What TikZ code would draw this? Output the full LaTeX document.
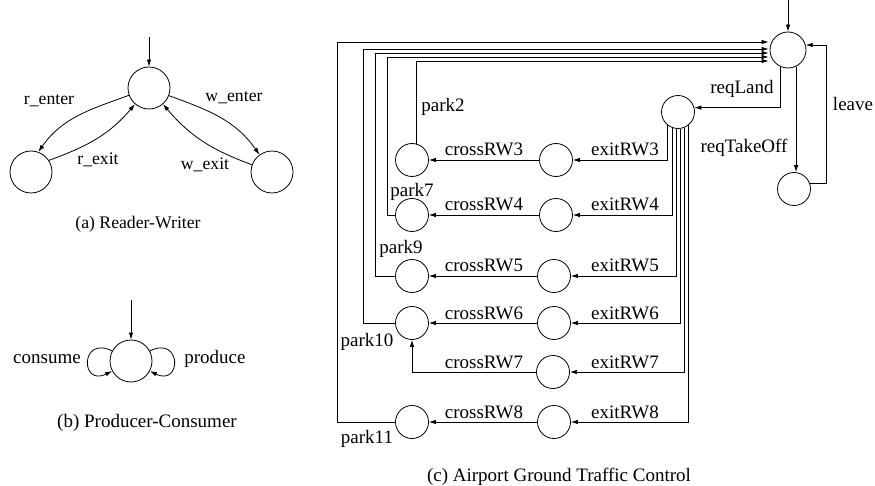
\documentclass[tikz,border=0pt]{standalone}
\usepackage{fontspec}
\setmainfont{Liberation Serif}
\usetikzlibrary{arrows.meta}
\begin{document}
\begin{tikzpicture}[x=1pt,y=1pt,
  st/.style={draw, circle, minimum size=33pt, inner sep=0pt, line width=0.8pt},
  sta/.style={st, minimum size=42pt},
  tr/.style={-{Latex[length=7pt,width=4.5pt]}, line width=0.8pt},
  lbl/.style={anchor=base, inner sep=0pt, font=\fontsize{19}{22}\selectfont},
  lbla/.style={anchor=base, inner sep=0pt, font=\fontsize{17.7}{20}\selectfont}]
\useasboundingbox (0,0) rectangle (875,-486);

% ---------- (a) Reader-Writer ----------
\node[sta] (a0) at (149,-88) {};
\node[sta] (a1) at (31,-172) {};
\node[sta] (a2) at (272,-172) {};
\coordinate (ai) at (149,-37);
\draw[tr] (ai) -- (a0.north);
\draw[tr] (a0.200) to[out=200,in=55] (a1.70);
\draw[tr] (a1.33) to[out=20,in=230] (a0.229);
\draw[tr] (a0.339) to[out=340,in=125] (a2.126);
\draw[tr] (a2.160) to[out=160,in=310] (a0.311);
\node[lbla] (la1) at (49,-105) {r\_enter};
\node[lbla] (la2) at (98,-165) {r\_exit};
\node[lbla] (la3) at (234,-102) {w\_enter};
\node[lbla] (la4) at (205,-170) {w\_exit};
\node[lbla] (capa) at (138,-229) {(a) Reader-Writer};

% ---------- (b) Producer-Consumer ----------
\node[sta] (b0) at (131,-361) {};
\coordinate (bi) at (131,-300);
\draw[tr] (bi) -- (b0.north);
\draw[tr] (b0.152) .. controls +(-32,16) and +(-32,-16) .. (b0.208);
\draw[tr] (b0.28) .. controls +(32,16) and +(32,-16) .. (b0.332);
\node[lbl] (lb1) at (47,-363) {consume};
\node[lbl] (lb2) at (215,-363) {produce};
\node[lbl] (capb) at (147,-427) {(b) Producer-Consumer};

% ---------- (c) Airport Ground Traffic Control ----------
\node[st, minimum size=36pt] (T) at (788,-50) {};
\node[st] (L) at (678,-112) {};
\node[st] (O) at (794,-189) {};
\coordinate (ti) at (788,0);
\draw[tr] (ti) -- (T.north);
\draw[tr] (T.244) |- (L.15);
\draw[tr] (T.296) -- (T.296 |- O.north);
\coordinate (lv) at (826,-45);
\draw[tr] (O.20) -| (lv) -- (lv -| T.16);
\node[lbl] (lc1) at (742,-94) {reqLand};
\node[lbl] (lc2) at (744,-153) {reqTakeOff};
\node[lbl] (lc3) at (853,-111) {leave};

\node[st] (X3) at (556,-160) {}; \node[st] (P3) at (412,-160) {};
\node[st] (X4) at (556,-215) {}; \node[st] (P4) at (412,-215) {};
\node[st] (X5) at (554,-276) {}; \node[st] (P5) at (412,-276) {};
\node[st] (X6) at (554,-323) {}; \node[st] (P6) at (412,-323) {};
\node[st] (X7) at (553,-372) {};
\node[st] (X8) at (554,-422) {}; \node[st] (P8) at (412,-422) {};

% exits from reqLand state
\draw[tr] (L.233) |- (X3.east);
\draw[tr] (L.249) |- (X4.east);
\draw[tr] (L.266) |- (X5.east);
\draw[tr] (L.277) |- (X6.east);
\draw[tr] (L.291) |- (X7.east);
\draw[tr] (L.307) |- (X8.east);
\foreach \r/\y in {3/160,4/215,5/276,6/323,7/372,8/422}{
  \node[lbl] (ex\r) at (625,-\y+4) {exitRW\r};
  \node[lbl] (cr\r) at (484,-\y+4) {crossRW\r};
}

% crossings
\draw[tr] (X3.west) -- (P3.east);
\draw[tr] (X4.west) -- (P4.east);
\draw[tr] (X5.west) -- (P5.east);
\draw[tr] (X6.west) -- (P6.east);
\draw[tr] (X7.west) -| (P6.south);
\draw[tr] (X8.west) -- (P8.east);

% parking back to the top state
\path (T.west) ++(-1,-11) coordinate (e2);
\path (T.west) ++(-1,-7) coordinate (e7);
\path (T.west) ++(-1,-3) coordinate (e9);
\path (T.west) ++(-1,1) coordinate (e10);
\path (T.west) ++(-1,8) coordinate (e11);
\coordinate (k7) at (387,0);
\coordinate (k9) at (375,0);
\coordinate (k10) at (363,0);
\coordinate (k11) at (337,0);
\draw[tr] (P3.74) |- (e2);
\draw[tr] (P4.west) -| (k7 |- e7) -- (e7);
\draw[tr] (P5.west) -| (k9 |- e9) -- (e9);
\draw[tr] (P6.west) -| (k10 |- e10) -- (e10);
\draw[tr] (P8.west) -| (k11 |- e11) -- (e11);
\node[lbl] (pk2) at (443,-112) {park2};
\node[lbl] (pk7) at (412,-197) {park7};
\node[lbl] (pk9) at (401,-254) {park9};
\node[lbl] (pk10) at (367,-346) {park10};
\node[lbl] (pk11) at (367,-443) {park11};
\node[lbl] (capc) at (559,-481) {(c) Airport Ground Traffic Control};
\end{tikzpicture}
\end{document}
